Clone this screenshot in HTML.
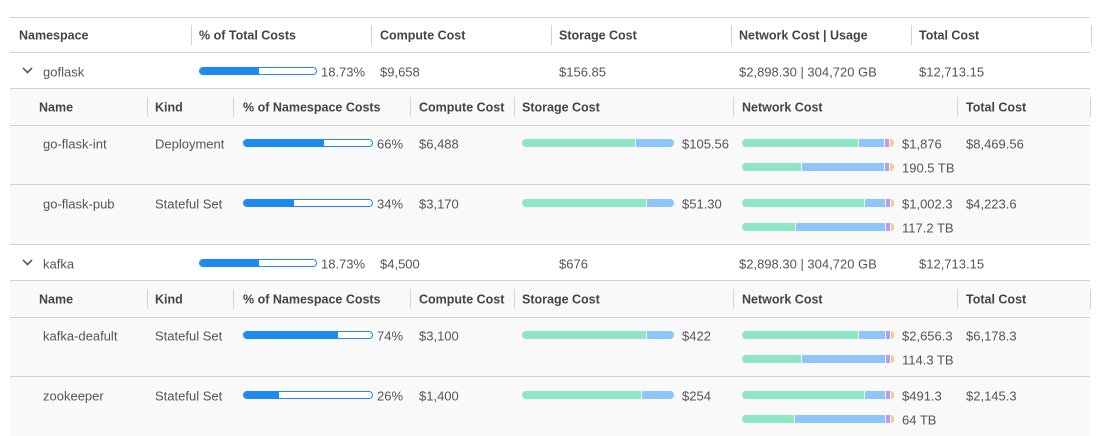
<!DOCTYPE html>
<html><head><meta charset="utf-8"><style>
*{margin:0;padding:0;box-sizing:border-box}
body{width:1100px;height:436px;background:#fff;position:relative;overflow:hidden;font-family:"Liberation Sans",sans-serif;font-size:13px;color:#555}
.a{position:absolute;white-space:nowrap}
.t{position:absolute;white-space:nowrap;transform:translateY(-45%)}
.h{font-weight:bold;color:#444;font-size:12.5px}
.hl{position:absolute;height:1px;background:#d3d3d3}
.vl{position:absolute;width:1px;background:#d3d3d3}
.bg{position:absolute;background:#f9f9f9}
.s{position:absolute;height:8px}
</style></head><body>
<div class="bg" style="left:10px;top:88px;width:1080px;height:156px"></div>
<div class="bg" style="left:10px;top:280px;width:1080px;height:156px"></div>
<div class="hl" style="left:10px;top:17px;width:1080px"></div>
<div class="hl" style="left:10px;top:52px;width:1080px"></div>
<div class="hl" style="left:10px;top:88px;width:1080px"></div>
<div class="hl" style="left:10px;top:125px;width:1080px"></div>
<div class="hl" style="left:10px;top:184px;width:1080px"></div>
<div class="hl" style="left:10px;top:244px;width:1080px"></div>
<div class="hl" style="left:10px;top:280px;width:1080px"></div>
<div class="hl" style="left:10px;top:317px;width:1080px"></div>
<div class="hl" style="left:10px;top:376px;width:1080px"></div>
<div class="t h" style="left:19px;top:35px">Namespace</div>
<div class="t h" style="left:199px;top:35px">% of Total Costs</div>
<div class="t h" style="left:380px;top:35px">Compute Cost</div>
<div class="t h" style="left:559px;top:35px">Storage Cost</div>
<div class="t h" style="left:739px;top:35px">Network Cost | Usage</div>
<div class="t h" style="left:919px;top:35px">Total Cost</div>
<div class="vl" style="left:191px;top:25px;height:20px"></div>
<div class="vl" style="left:371px;top:25px;height:20px"></div>
<div class="vl" style="left:551px;top:25px;height:20px"></div>
<div class="vl" style="left:731px;top:25px;height:20px"></div>
<div class="vl" style="left:911px;top:25px;height:20px"></div>
<div class="vl" style="left:1091px;top:25px;height:20px"></div>
<div id="ns"></div>
<script>
var H='';
function t(x,y,s,c){H+='<div class="t'+(c?' '+c:'')+'" style="left:'+x+'px;top:'+y+'px">'+s+'</div>';}
function seg(x1,x2,y,col,r){H+='<div class="s" style="left:'+x1+'px;top:'+(y-4)+'px;width:'+(x2-x1)+'px;background:'+col+';border-radius:'+(r||0)+'"></div>';}
function pbar(x1,x2,f,y){H+='<div class="s" style="left:'+x1+'px;top:'+(y-4)+'px;width:'+(x2-x1)+'px;border:1px solid #1e88f5;border-radius:4px;background:#fff;overflow:hidden"><div style="width:'+(f-x1)+'px;height:100%;background:#1e88f5"></div></div>';}
function net(g,b,y){seg(742,g,y,'#8ee6c5','4px 0 0 4px');seg(g+1,b,y,'#8ec5fb');seg(b+1,b+5,y,'#b0a0f5');seg(b+6,894,y,'#f9c88a','0 4px 4px 0');}
function stor(g,y){seg(522,g,y,'#8ee6c5','4px 0 0 4px');seg(g+1,674,y,'#8ec5fb','0 4px 4px 0');}
function ns(y,name,comp,stc){
 H+='<div class="a" style="left:23px;top:'+(y-7)+'px;width:9px;height:9px;border-right:2px solid #555;border-bottom:2px solid #555;transform:rotate(45deg) scale(.8)"></div>';
 t(43,y,name);pbar(199,317,258,y);t(321,y,'18.73%');t(380,y,comp);t(559,y,stc);
 t(739,y,'$2,898.30 | 304,720 GB');t(919,y,'$12,713.15');
}
function sub(y){
 var L=[[39,'Name'],[155,'Kind'],[243,'% of Namespace Costs'],[419,'Compute Cost'],[522,'Storage Cost'],[742,'Network Cost'],[966,'Total Cost']];
 L.forEach(function(a){t(a[0],y,a[1],'h');});
 [147,233,410,514,733,957,1090].forEach(function(x){H+='<div class="vl" style="left:'+x+'px;top:'+(y-10)+'px;height:20px"></div>';});
}
function row(y,name,kind,f,pc,comp,sg,sv,g1,b1,nv,g2,b2,tb,tot){
 t(43,y,name);t(155,y,kind);pbar(243,373,f,y);t(377,y,pc);t(419,y,comp);
 stor(sg,y);t(682,y,sv);net(g1,b1,y);t(902,y,nv);t(966,y,tot);
 net(g2,b2,y+24);t(902,y+24,tb);
}
ns(71,'goflask','$9,658','$156.85');
sub(107);
row(143,'go-flask-int','Deployment',323,'66%','$6,488',635,'$105.56',858,884,'$1,876',801,884,'190.5 TB','$8,469.56');
row(203,'go-flask-pub','Stateful Set',293,'34%','$3,170',646,'$51.30',864,885,'$1,002.3',795,885,'117.2 TB','$4,223.6');
ns(263,'kafka','$4,500','$676');
sub(299);
row(335,'kafka-deafult','Stateful Set',337,'74%','$3,100',646,'$422',858,885,'$2,656.3',801,885,'114.3 TB','$6,178.3');
row(395,'zookeeper','Stateful Set',278,'26%','$1,400',641,'$254',864,885,'$491.3',794,885,'64 TB','$2,145.3');
document.getElementById('ns').outerHTML=H;
</script>
</body></html>
